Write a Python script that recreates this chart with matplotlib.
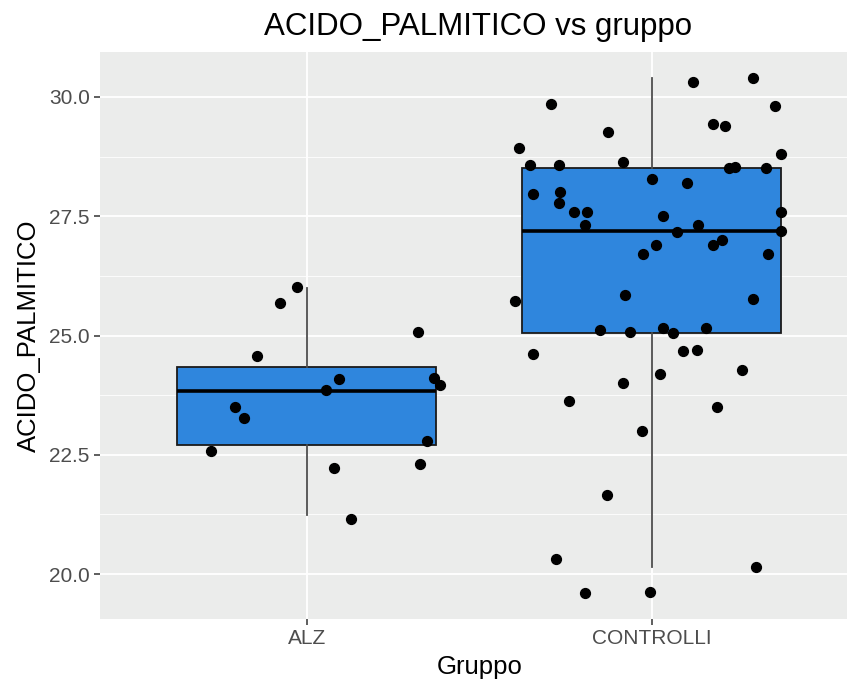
import matplotlib.pyplot as plt

plt.rcParams['font.family'] = ['Liberation Sans', 'DejaVu Sans']

# gruppi e valori di acido palmitico
gruppi = ["ALZ", "CONTROLLI"]

alz_valori = [26.01, 25.69, 25.08, 24.58, 24.09, 24.12, 23.97, 23.85,
              23.50, 23.27, 22.79, 22.57, 22.23, 22.31, 21.16]
alz_jitter = [-0.027, -0.076, 0.324, -0.144, 0.094, 0.370, 0.387, 0.057,
              -0.207, -0.182, 0.350, -0.276, 0.080, 0.327, 0.128]

controlli_valori = [30.31, 30.39, 29.85, 29.81, 29.43, 29.39, 29.27, 28.93,
                    28.81, 28.58, 28.58, 28.63, 28.50, 28.54, 28.51, 28.28,
                    28.19, 27.96, 28.01, 27.78, 27.58, 27.58, 27.32, 27.58,
                    27.51, 27.32, 27.16, 27.20, 26.90, 26.90, 27.00, 26.70,
                    26.70, 25.73, 25.85, 25.77, 25.12, 25.08, 25.16, 25.05,
                    25.15, 24.62, 24.67, 24.70, 24.28, 24.20, 24.00, 23.62,
                    23.50, 23.00, 21.65, 20.31, 20.15, 19.60, 19.62]
controlli_jitter = [0.118, 0.294, -0.291, 0.357, 0.176, 0.212, -0.126, -0.386,
                    0.373, -0.354, -0.269, -0.083, 0.224, 0.241, 0.330, 0.001,
                    0.102, -0.344, -0.265, -0.270, -0.226, -0.189, -0.194, 0.373,
                    0.033, 0.134, 0.072, 0.373, 0.012, 0.176, 0.204, -0.025,
                    0.335, -0.397, -0.078, 0.294, -0.151, -0.062, 0.033, 0.060,
                    0.157, -0.344, 0.091, 0.130, 0.262, 0.023, -0.083, -0.241,
                    0.188, -0.030, -0.131, -0.279, 0.303, -0.194, -0.004]

# statistiche del boxplot (min baffo, Q1, mediana, Q3, max baffo)
baffo_basso = [21.23, 20.15]
q1 = [22.71, 25.05]
mediana = [23.84, 27.19]
q3 = [24.33, 28.51]
baffo_alto = [26.00, 30.40]

fig = plt.figure(figsize=(8.47, 6.94), dpi=100)
W, H = 847, 694
# il pannello continua oltre il bordo destro
ax = fig.add_axes([99.5 / W, 1 - 619 / H, (859 - 99.5) / W, (619 - 52) / H])
ax.set_facecolor("#EBECEB")

stats = []
for i, g in enumerate(gruppi):
    stats.append(dict(label=g, whislo=baffo_basso[i], q1=q1[i], med=mediana[i],
                      q3=q3[i], whishi=baffo_alto[i], fliers=[]))

ax.bxp(stats, positions=[1, 2], widths=0.75, patch_artist=True, showcaps=False,
       boxprops=dict(facecolor="#2F86DD", edgecolor="#1A1A1A", linewidth=1.3),
       medianprops=dict(color="black", linewidth=2.6),
       whiskerprops=dict(color="#4D4D4D", linewidth=1.3), zorder=2)

ax.scatter([1 + j for j in alz_jitter], alz_valori, s=50, color="black", zorder=3)
ax.scatter([2 + j for j in controlli_jitter], controlli_valori, s=50, color="black", zorder=3)

ax.set_xlim(0.4, 2.6)
ax.set_ylim(19.06, 30.94)
ax.set_xticks([1, 2])
ax.set_xticklabels(gruppi)
ax.set_yticks([20.0, 22.5, 25.0, 27.5, 30.0])
ax.set_yticklabels(["20.0", "22.5", "25.0", "27.5", "30.0"])
ax.set_yticks([21.25, 23.75, 26.25, 28.75], minor=True)
ax.tick_params(which="minor", length=0)
ax.tick_params(which="major", length=4, color="#333333", labelcolor="#4D4D4D",
               labelsize=15, width=1.1, pad=3)

ax.grid(which="major", color="white", linewidth=1.3, zorder=0)
ax.grid(which="minor", axis="y", color="white", linewidth=0.6, zorder=0)
ax.set_axisbelow(True)
for s in ax.spines.values():
    s.set_visible(False)

ax.set_xlabel("Gruppo", fontsize=18.5, labelpad=5)
ax.set_ylabel("ACIDO_PALMITICO", fontsize=18.5, labelpad=6)
fig.text(478 / W, 1 - 27 / H, "ACIDO_PALMITICO vs gruppo", fontsize=22.5,
         ha="center", va="center")

fig.savefig("out.png", dpi=100)
